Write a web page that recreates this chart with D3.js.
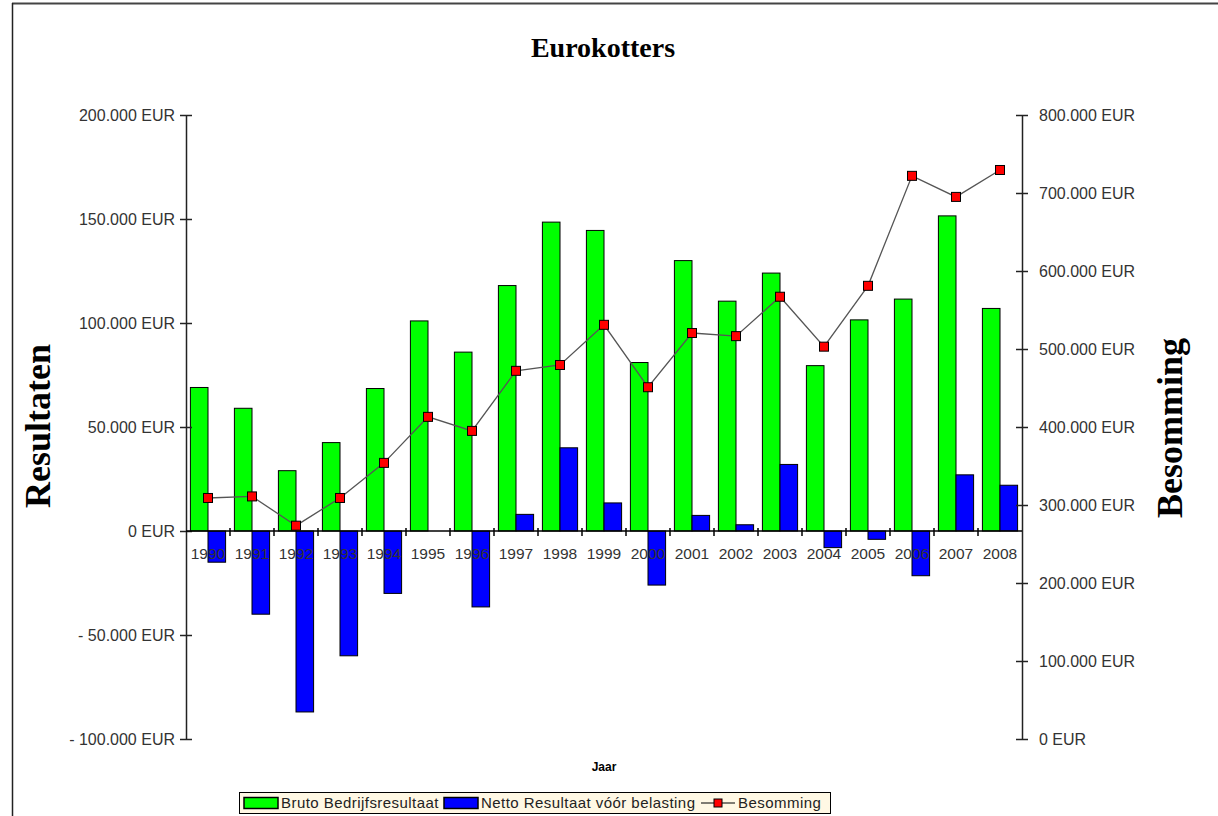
<!DOCTYPE html>
<html>
<head>
<meta charset="utf-8">
<script src="https://cdn.jsdelivr.net/npm/d3@7"></script>
<style>
  body { margin: 0; background: #fff; }
  text { font-family: "Liberation Sans", Arial, sans-serif; }
</style>
</head>
<body>
<svg width="1218" height="816"></svg>
<script>
// data
var years = ["1990","1991","1992","1993","1994","1995","1996","1997","1998","1999",
             "2000","2001","2002","2003","2004","2005","2006","2007","2008"];
var bruto = [69000, 59000, 29000, 42500, 68500, 101000, 86000, 118000, 148500, 144500,
             81000, 130000, 110500, 124000, 79500, 101500, 111500, 151500, 107000];
var netto = [-15000, -40000, -87000, -60000, -30000, 0, -36500, 8000, 40000, 13500,
             -26000, 7500, 3000, 32000, -8000, -4000, -21500, 27000, 22000];
var besomming = [309000, 311000, 273500, 309000, 354000, 413000, 395000, 472000, 479500, 531000,
                 451000, 520500, 516500, 567000, 503000, 581000, 722000, 695000, 729500];
var leftTicks = [-100000, -50000, 0, 50000, 100000, 150000, 200000];
var rightTicks = [0, 100000, 200000, 300000, 400000, 500000, 600000, 700000, 800000];

var svg = d3.select("svg");

// page frame
svg.append("line").attr("x1", 12).attr("x2", 1218).attr("y1", 3.5).attr("y2", 3.5)
  .attr("stroke", "#444").attr("stroke-width", 2);
svg.append("line").attr("x1", 12.5).attr("x2", 12.5).attr("y1", 3).attr("y2", 816)
  .attr("stroke", "#222").attr("stroke-width", 1.5);

var pLeft = 186, pRight = 1022, pTop = 115, pBottom = 739;

var x = d3.scaleBand().domain(years).range([pLeft, pRight]).padding(0);
var yL = d3.scaleLinear().domain([-100000, 200000]).range([pBottom, pTop]);
var yR = d3.scaleLinear().domain([0, 800000]).range([pBottom, pTop]);

function eur(v) {
  var s = d3.format(",")(Math.abs(v)).replace(/,/g, ".");
  return (v < 0 ? "- " : "") + s + " EUR";
}

// title
svg.append("text").attr("x", 603).attr("y", 57).attr("text-anchor", "middle")
  .style("font-family", "'Liberation Serif', 'Times New Roman', serif")
  .style("font-weight", "bold").style("font-size", "28px").text("Eurokotters");

// axis titles
svg.append("text").attr("transform", "translate(50,426) rotate(-90)")
  .attr("text-anchor", "middle")
  .style("font-family", "'Liberation Serif', 'Times New Roman', serif")
  .style("font-weight", "bold").style("font-size", "36px").text("Resultaten");
svg.append("text").attr("transform", "translate(1182,428) rotate(-90)")
  .attr("text-anchor", "middle")
  .style("font-family", "'Liberation Serif', 'Times New Roman', serif")
  .style("font-weight", "bold").style("font-size", "36px").text("Besomming");

svg.append("text").attr("x", 604).attr("y", 771).attr("text-anchor", "middle")
  .style("font-weight", "bold").style("font-size", "12px").text("Jaar");

// bars
var bw = x.bandwidth() * 0.4;
svg.append("g").selectAll("rect").data(bruto).enter().append("rect")
  .attr("x", function(d, i){ return x(years[i]) + x.bandwidth() / 2 - bw; })
  .attr("y", function(d){ return yL(Math.max(d, 0)); })
  .attr("width", bw)
  .attr("height", function(d){ return Math.abs(yL(d) - yL(0)); })
  .attr("fill", "#00ff00").attr("stroke", "#000").attr("stroke-width", 1);

svg.append("g").selectAll("rect").data(netto).enter().append("rect")
  .attr("x", function(d, i){ return x(years[i]) + x.bandwidth() / 2; })
  .attr("y", function(d){ return yL(Math.max(d, 0)); })
  .attr("width", bw)
  .attr("height", function(d){ return Math.abs(yL(d) - yL(0)); })
  .attr("fill", "#0000ff").attr("stroke", "#000").attr("stroke-width", 1);

// left axis
var gL = svg.append("g").attr("transform", "translate(" + pLeft + ",0)")
  .call(d3.axisLeft(yL).tickValues(leftTicks).tickFormat(eur).tickSizeInner(6).tickSizeOuter(0).tickPadding(5));
gL.selectAll(".tick line").attr("x1", 6);
gL.selectAll("text").style("font-size", "16px").attr("fill", "#333");
gL.select(".domain").attr("stroke", "#222").attr("stroke-width", 1.5);
gL.selectAll(".tick line").attr("stroke", "#222").attr("stroke-width", 1.5);

// right axis
var gR = svg.append("g").attr("transform", "translate(" + pRight + ",0)")
  .call(d3.axisRight(yR).tickValues(rightTicks).tickFormat(eur).tickSizeInner(6).tickSizeOuter(0).tickPadding(11));
gR.selectAll(".tick line").attr("x1", -6);
gR.selectAll("text").style("font-size", "16px").attr("fill", "#333");
gR.select(".domain").attr("stroke", "#222").attr("stroke-width", 1.5);
gR.selectAll(".tick line").attr("stroke", "#222").attr("stroke-width", 1.5);

// zero line with category ticks
var y0 = yL(0);
svg.append("line").attr("x1", pLeft).attr("x2", pRight).attr("y1", y0).attr("y2", y0)
  .attr("stroke", "#000").attr("stroke-width", 1.5);
svg.append("g").selectAll("line").data(years.slice(1)).enter().append("line")
  .attr("x1", function(d){ return x(d); }).attr("x2", function(d){ return x(d); })
  .attr("y1", y0 - 3).attr("y2", y0 + 5)
  .attr("stroke", "#000").attr("stroke-width", 1.5);
svg.append("g").selectAll("text").data(years).enter().append("text")
  .attr("x", function(d){ return x(d) + x.bandwidth() / 2; })
  .attr("y", y0 + 28).attr("text-anchor", "middle")
  .style("font-size", "15.5px").attr("fill", "#333").text(function(d){ return d; });

// besomming line
var line = d3.line()
  .x(function(d, i){ return x(years[i]) + x.bandwidth() / 2; })
  .y(function(d){ return yR(d); });
svg.append("path").datum(besomming).attr("d", line)
  .attr("fill", "none").attr("stroke", "#555").attr("stroke-width", 1.3);
svg.append("g").selectAll("rect").data(besomming).enter().append("rect")
  .attr("x", function(d, i){ return x(years[i]) + x.bandwidth() / 2 - 4.5; })
  .attr("y", function(d){ return yR(d) - 4.5; })
  .attr("width", 9).attr("height", 9)
  .attr("fill", "#ff0000").attr("stroke", "#000").attr("stroke-width", 1);

// legend
var lg = svg.append("g");
lg.append("rect").attr("x", 239.5).attr("y", 792.5).attr("width", 591).attr("height", 21)
  .attr("fill", "#fff8e4").attr("stroke", "#000").attr("stroke-width", 1);
var items = [
  { label: "Bruto Bedrijfsresultaat", kind: "bar", color: "#00ff00", x: 244 },
  { label: "Netto Resultaat vóór belasting", kind: "bar", color: "#0000ff", x: 444 },
  { label: "Besomming", kind: "line", color: "#ff0000", x: 701 }
];
items.forEach(function(it){
  if (it.kind === "bar") {
    lg.append("rect").attr("x", it.x).attr("y", 797.5).attr("width", 34).attr("height", 11)
      .attr("fill", it.color).attr("stroke", "#000").attr("stroke-width", 1.5);
  } else {
    lg.append("line").attr("x1", it.x).attr("x2", it.x + 34).attr("y1", 803).attr("y2", 803)
      .attr("stroke", "#000").attr("stroke-width", 1.2);
    lg.append("rect").attr("x", it.x + 13).attr("y", 799).attr("width", 8).attr("height", 8)
      .attr("fill", it.color).attr("stroke", "#000").attr("stroke-width", 1);
  }
  lg.append("text").attr("x", it.x + 37).attr("y", 808).style("font-size", "15px")
    .style("letter-spacing", "0.45px").attr("fill", "#222").text(it.label);
});
</script>
</body>
</html>
